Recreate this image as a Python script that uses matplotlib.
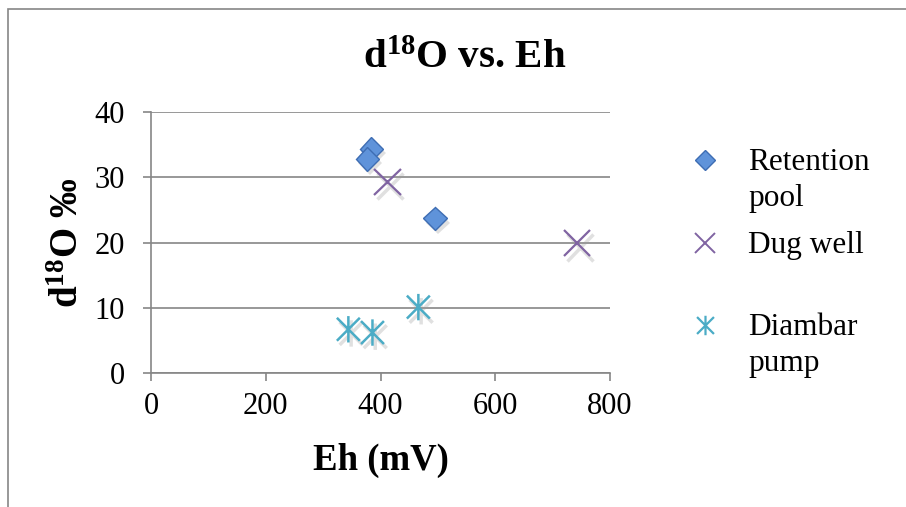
import matplotlib
matplotlib.use("Agg")
import matplotlib.pyplot as plt
import matplotlib.patheffects as pe
from matplotlib.path import Path
from matplotlib.lines import Line2D
from matplotlib.patches import Rectangle

plt.rcParams['font.family'] = ['Liberation Serif', 'DejaVu Serif']
plt.rcParams['mathtext.fontset'] = 'custom'
plt.rcParams['mathtext.rm'] = 'Liberation Serif:bold'
plt.rcParams['mathtext.bf'] = 'Liberation Serif:bold'
plt.rcParams['mathtext.it'] = 'Liberation Serif:bold'

# Eh (mV) and d18O (per mil) for each sampling point type
retention_eh = [384, 377, 495]
retention_d18o = [34.3, 32.8, 23.7]
dugwell_eh = [412, 743]
dugwell_d18o = [29.3, 19.9]
diambar_eh = [344, 386, 466]
diambar_d18o = [6.7, 6.2, 10.1]

series_names = [["Retention", "pool"], ["Dug well"], ["Diambar", "pump"]]
x_ticks = [0, 200, 400, 600, 800]
y_ticks = [0, 10, 20, 30, 40]

W, H = 906, 507
fig = plt.figure(figsize=(W / 100, H / 100), dpi=100)
ax = fig.add_axes([151 / W, 1 - 373 / H, (610 - 151) / W, (373 - 112) / H])

# Chart area border (top and left edges visible)
fig.add_artist(Rectangle((7.5 / W, -0.1), 2.0, 1 - 8.5 / H + 0.1,
                         transform=fig.transFigure, fill=False,
                         edgecolor='#868686', linewidth=1.2))

# Asterisk marker: an X crossed by a vertical bar
ast = Path([(-1, -1), (1, 1), (-1, 1), (1, -1), (0, -1.15), (0, 1.15)],
           [Path.MOVETO, Path.LINETO, Path.MOVETO, Path.LINETO,
            Path.MOVETO, Path.LINETO])

blue_face, blue_edge = '#5F93DA', '#3E6DB3'
purple = '#8064A2'
teal = '#4BACC6'

shadow_line = [pe.SimpleLineShadow(offset=(2, -3), shadow_color='#9a9a9a', alpha=0.3,
                                   linewidth=2.5), pe.Normal()]
shadow_patch = [pe.SimplePatchShadow(offset=(2, -3), shadow_rgbFace='#9a9a9a', alpha=0.3),
                pe.Normal()]

ax.plot(retention_eh, retention_d18o, linestyle='none', marker='D', ms=12,
        mfc=blue_face, mec=blue_edge, mew=1.0, zorder=4, clip_on=False,
        path_effects=shadow_patch)
ax.plot(dugwell_eh, dugwell_d18o, linestyle='none', marker='x', ms=19,
        mec=purple, mew=1.6, zorder=4, clip_on=False, path_effects=shadow_line)
ax.plot(diambar_eh, diambar_d18o, linestyle='none', marker=ast, ms=19,
        mec=teal, mew=1.8, zorder=4, clip_on=False, path_effects=shadow_line)

ax.set_xlim(0, 800)
ax.set_ylim(0, 40)
ax.set_xticks(x_ticks)
ax.set_yticks(y_ticks)
ax.tick_params(axis='both', labelsize=22, colors='#868686', labelcolor='black',
               length=6, width=1.2, direction='out')
ax.tick_params(axis='y', pad=13)
ax.tick_params(axis='x', pad=8)
ax.yaxis.grid(True, color='#868686', linewidth=1.2)
ax.set_axisbelow(True)
for side in ('top', 'right'):
    ax.spines[side].set_visible(False)
for side in ('left', 'bottom'):
    ax.spines[side].set_color('#868686')
    ax.spines[side].set_linewidth(1.2)

ax.set_xlabel('Eh (mV)', fontsize=26.5, fontweight='bold', va='baseline')
ax.xaxis.set_label_coords(0.5, -(470 - 373) / (373 - 112))
ax.set_ylabel('d$^{18}$O ‰', fontsize=28, fontweight='bold', labelpad=5)

fig.text(465 / W, 1 - 68 / H, 'd$^{18}$O vs. Eh', fontsize=29.5, fontweight='bold',
         ha='center', va='baseline')

# Legend
leg_marker_x = 705 / W
leg_text_x = 748 / W
legend_rows = [
    (160, dict(marker='D', ms=10, mfc=blue_face, mec=blue_edge, mew=1.0)),
    (243, dict(marker='x', ms=14, mec=purple, mew=1.4)),
    (325, dict(marker=ast, ms=14, mec=teal, mew=1.6)),
]
for lines, (ypix, style) in zip(series_names, legend_rows):
    fig.add_artist(Line2D([leg_marker_x], [1 - ypix / H], linestyle='none',
                          transform=fig.transFigure, **style))
    for i, line in enumerate(lines):
        fig.text(leg_text_x, 1 - (ypix + 10 + 36 * i) / H, line, fontsize=22.5,
                 ha='left', va='baseline', transform=fig.transFigure)

fig.savefig('out.png', dpi=100, facecolor='white')
